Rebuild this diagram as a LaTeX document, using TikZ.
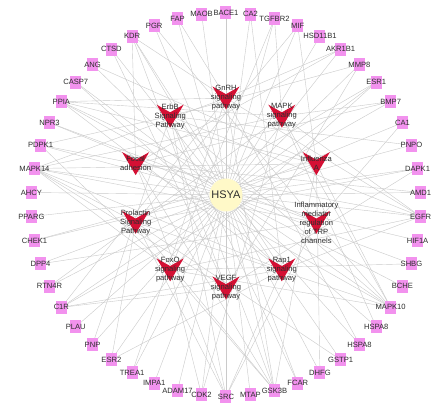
\documentclass[tikz,border=0pt]{standalone}
\usepackage{fontspec}
\setmainfont{Liberation Sans}
\usetikzlibrary{backgrounds}

\definecolor{targetpink}{RGB}{242,146,238}
\definecolor{veered}{RGB}{212,16,52}
\definecolor{drugyellow}{RGB}{255,249,200}
\definecolor{linkgray}{RGB}{202,202,202}
\definecolor{labelgray}{RGB}{45,45,45}

\tikzset{
  link/.style={draw=linkgray, line width=0.4pt},
  target/.style={inner sep=0pt, minimum width=11pt, minimum height=13pt, text=labelgray,
    font=\fontsize{7.6}{9}\selectfont,
    path picture={\fill [targetpink] ([shift={(-5.5,-6.5)}]path picture bounding box.center) rectangle ++(11,13);}},
  pathway/.style={inner sep=0pt, minimum width=28pt, minimum height=25pt, align=center, text=labelgray,
    font=\fontsize{7.6}{9}\selectfont,
    path picture={\fill [veered] ([shift={(-13.5,11.5)}]path picture bounding box.center)
      -- ++(13.5,-7.7) -- ++(13.5,7.7) -- ++(-13.5,-23) -- cycle;}},
  drug/.style={circle, fill=drugyellow, minimum size=33pt, inner sep=0pt, text=labelgray,
    font=\fontsize{11}{13}\selectfont}
}

\begin{document}
\begin{tikzpicture}[x=1pt, y=1pt]
\useasboundingbox (-226,-198.5) rectangle (206,204.5);
% drug in the middle
\node [drug] (hsya) at (0,9.5) {HSYA};
% pathways
\coordinate (ring) at (0,11.5);
\node [pathway] (gnrh) at ([shift={(90:95)}]ring) {GnRH\\signaling\\pathway};
\node [pathway] (mapk) at ([shift={(54:95)}]ring) {MAPK\\signaling\\pathway};
\node [pathway] (flu) at ([shift={(18:95)}]ring) {Influenza\\A};
\node [pathway] (trp) at ([shift={(-18:95)}]ring) {Inflammatory\\mediator\\regulation\\of TRP\\channels};
\node [pathway] (rap) at ([shift={(-54:95)}]ring) {Rap1\\signaling\\pathway};
\node [pathway] (vegf) at ([shift={(-90:95)}]ring) {VEGF\\signaling\\pathway};
\node [pathway] (foxo) at ([shift={(-126:95)}]ring) {FoxO\\signaling\\pathway};
\node [pathway] (prl) at ([shift={(-162:95)}]ring) {Prolactin\\Signaling\\Pathway};
\node [pathway] (focal) at ([shift={(162:95)}]ring) {Focal\\adhesion};
\node [pathway] (erbb) at ([shift={(126:95)}]ring) {ErbB\\Signaling\\Pathway};
% targets, clockwise from the top
\node [target] (bace1) at (90:195 and 192) {BACE1};
\node [target] (ca2) at (82.8:195 and 192) {CA2};
\node [target] (tgfbr2) at (75.6:195 and 192) {TGFBR2};
\node [target] (mif) at (68.4:195 and 192) {MIF};
\node [target] (hsd11b1) at (61.2:195 and 192) {HSD11B1};
\node [target] (akr1b1) at (54:195 and 192) {AKR1B1};
\node [target] (mmp8) at (46.8:195 and 192) {MMP8};
\node [target] (esr1) at (39.6:195 and 192) {ESR1};
\node [target] (bmp7) at (32.4:195 and 192) {BMP7};
\node [target] (ca1) at (25.2:195 and 192) {CA1};
\node [target] (pnpo) at (18:195 and 192) {PNPO};
\node [target] (dapk1) at (10.8:195 and 192) {DAPK1};
\node [target] (amd1) at (3.6:195 and 192) {AMD1};
\node [target] (egfr) at (-3.6:195 and 192) {EGFR};
\node [target] (hif1a) at (-10.8:195 and 192) {HIF1A};
\node [target] (shbg) at (-18:195 and 192) {SHBG};
\node [target] (bche) at (-25.2:195 and 192) {BCHE};
\node [target] (mapk10) at (-32.4:195 and 192) {MAPK10};
\node [target] (hspa8a) at (-39.6:195 and 192) {HSPA8};
\node [target] (hspa8b) at (-46.8:195 and 192) {HSPA8};
\node [target] (gstp1) at (-54:195 and 192) {GSTP1};
\node [target] (dhfg) at (-61.2:195 and 192) {DHFG};
\node [target] (fcar) at (-68.4:195 and 192) {FCAR};
\node [target] (gsk3b) at (-75.6:195 and 192) {GSK3B};
\node [target] (mtap) at (-82.8:195 and 192) {MTAP};
\node [target] (src) at (-90:195 and 192) {SRC};
\node [target] (cdk2) at (-97.2:195 and 192) {CDK2};
\node [target] (adam17) at (-104.4:195 and 192) {ADAM17};
\node [target] (impa1) at (-111.6:195 and 192) {IMPA1};
\node [target] (trea1) at (-118.8:195 and 192) {TREA1};
\node [target] (esr2) at (-126:195 and 192) {ESR2};
\node [target] (pnp) at (-133.2:195 and 192) {PNP};
\node [target] (plau) at (-140.4:195 and 192) {PLAU};
\node [target] (c1r) at (-147.6:195 and 192) {C1R};
\node [target] (rtn4r) at (-154.8:195 and 192) {RTN4R};
\node [target] (dpp4) at (-162:195 and 192) {DPP4};
\node [target] (chek1) at (-169.2:195 and 192) {CHEK1};
\node [target] (pparg) at (-176.4:195 and 192) {PPARG};
\node [target] (ahcy) at (176.4:195 and 192) {AHCY};
\node [target] (mapk14) at (169.2:195 and 192) {MAPK14};
\node [target] (pdpk1) at (162:195 and 192) {PDPK1};
\node [target] (npr3) at (154.8:195 and 192) {NPR3};
\node [target] (ppia) at (147.6:195 and 192) {PPIA};
\node [target] (casp7) at (140.4:195 and 192) {CASP7};
\node [target] (ang) at (133.2:195 and 192) {ANG};
\node [target] (ctsd) at (126:195 and 192) {CTSD};
\node [target] (kdr) at (118.8:195 and 192) {KDR};
\node [target] (pgr) at (111.6:195 and 192) {PGR};
\node [target] (fap) at (104.4:195 and 192) {FAP};
\node [target] (maob) at (97.2:195 and 192) {MAOB};
% links behind everything
\begin{scope}[on background layer]
\fill [white] (-226,-198.5) rectangle (206,204.5);
\draw [link] (hsya) edge (bace1.center) edge (ca2.center) edge (tgfbr2.center) edge (mif.center)
  edge (hsd11b1.center) edge (akr1b1.center) edge (mmp8.center) edge (esr1.center)
  edge (bmp7.center) edge (ca1.center) edge (pnpo.center) edge (dapk1.center)
  edge (amd1.center) edge (egfr.center) edge (hif1a.center) edge (shbg.center)
  edge (bche.center) edge (mapk10.center) edge (hspa8a.center) edge (hspa8b.center)
  edge (gstp1.center) edge (dhfg.center) edge (fcar.center) edge (gsk3b.center)
  edge (mtap.center) edge (src.center) edge (cdk2.center) edge (adam17.center)
  edge (impa1.center) edge (trea1.center) edge (esr2.center) edge (pnp.center)
  edge (plau.center) edge (c1r.center) edge (rtn4r.center) edge (dpp4.center)
  edge (chek1.center) edge (pparg.center) edge (ahcy.center) edge (mapk14.center)
  edge (pdpk1.center) edge (npr3.center) edge (ppia.center) edge (casp7.center)
  edge (ang.center) edge (ctsd.center) edge (kdr.center) edge (pgr.center)
  edge (fap.center) edge (maob.center);
\draw [link] (gnrh.center) edge (akr1b1.center) edge (egfr.center) edge (gsk3b.center) edge (trea1.center)
  edge (c1r.center) edge (mapk14.center) edge (ppia.center) edge (kdr.center) edge (hspa8b.center) edge (fap.center);
\draw [link] (mapk.center) edge (ppia.center) edge (mapk14.center) edge (mapk10.center) edge (egfr.center)
  edge (tgfbr2.center) edge (cdk2.center) edge (rtn4r.center) edge (hspa8a.center) edge (bmp7.center);
\draw [link] (flu.center) edge (mapk14.center) edge (mapk10.center) edge (gsk3b.center) edge (c1r.center)
  edge (ppia.center) edge (chek1.center) edge (dhfg.center) edge (mif.center) edge (ang.center);
\draw [link] (trp.center) edge (src.center) edge (mapk14.center) edge (mapk10.center) edge (npr3.center)
  edge (ppia.center) edge (dpp4.center) edge (ca1.center) edge (pgr.center);
\draw [link] (rap.center) edge (egfr.center) edge (kdr.center) edge (src.center) edge (mapk14.center)
  edge (ppia.center) edge (c1r.center) edge (casp7.center) edge (ca2.center) edge (esr2.center);
\draw [link] (vegf.center) edge (kdr.center) edge (src.center) edge (mapk14.center) edge (ctsd.center)
  edge (bace1.center) edge (mmp8.center) edge (dapk1.center) edge (c1r.center);
\draw [link] (foxo.center) edge (egfr.center) edge (cdk2.center) edge (mapk14.center) edge (mapk10.center)
  edge (tgfbr2.center) edge (pdpk1.center) edge (gsk3b.center) edge (esr1.center) edge (shbg.center);
\draw [link] (prl.center) edge (esr1.center) edge (esr2.center) edge (src.center) edge (gsk3b.center)
  edge (mapk14.center) edge (mapk10.center) edge (dapk1.center) edge (mif.center) edge (gstp1.center);
\draw [link] (focal.center) edge (egfr.center) edge (kdr.center) edge (src.center) edge (pdpk1.center)
  edge (gsk3b.center) edge (mapk10.center) edge (amd1.center) edge (akr1b1.center) edge (bmp7.center);
\draw [link] (erbb.center) edge (egfr.center) edge (src.center) edge (gsk3b.center) edge (mapk10.center)
  edge (pdpk1.center) edge (pnpo.center) edge (mmp8.center) edge (pnp.center) edge (fcar.center);
\end{scope}
\end{tikzpicture}
\end{document}
